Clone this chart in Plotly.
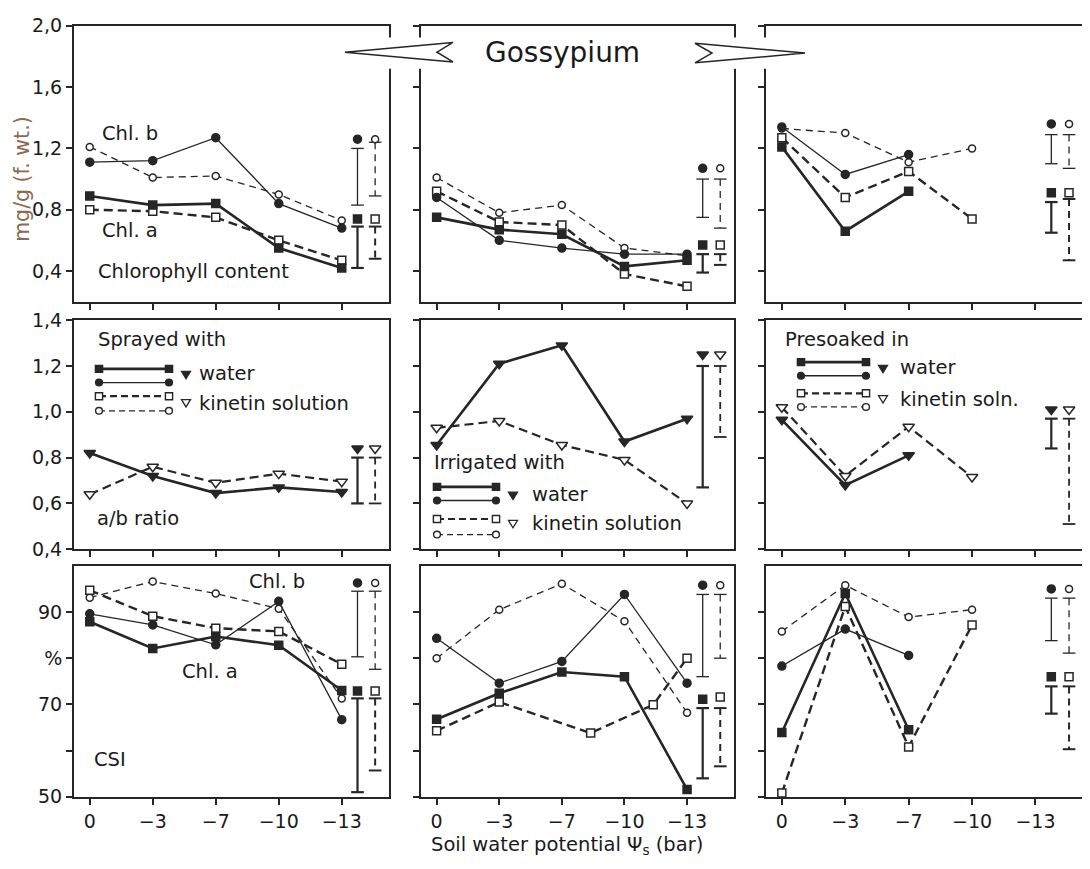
import plotly.graph_objects as go

W, H = 1090, 869
OFF = 8  # page body margin of the browser
FONT = "DejaVu Sans"
DARK = "#262626"

# ---------------- data ----------------
X_POS = [0, 1, 2, 3, 4]
X_LABELS = ["0", "−3", "−7", "−10", "−13"]
ERR_X_WATER = 4.25
ERR_X_KIN = 4.53

# Row 1: chlorophyll content (mg/g f. wt.)
spray_chla_water = [0.89, 0.83, 0.84, 0.55, 0.42]
spray_chla_kin = [0.80, 0.79, 0.75, 0.60, 0.47]
spray_chlb_water = [1.11, 1.12, 1.27, 0.84, 0.68]
spray_chlb_kin = [1.21, 1.01, 1.02, 0.90, 0.73]

irrig_chla_water = [0.75, 0.67, 0.64, 0.43, 0.47]
irrig_chla_kin = [0.92, 0.72, 0.70, 0.38, 0.30]
irrig_chlb_water = [0.88, 0.60, 0.55, 0.51, 0.51]
irrig_chlb_kin = [1.01, 0.78, 0.83, 0.55, 0.50]

soak_chla_water = [1.21, 0.66, 0.92, None, None]
soak_chla_kin = [1.27, 0.88, 1.05, 0.74, None]
soak_chlb_water = [1.34, 1.03, 1.16, None, None]
soak_chlb_kin = [1.33, 1.30, 1.11, 1.20, None]

# Row 2: a/b ratio
spray_ratio_water = [0.82, 0.72, 0.645, 0.67, 0.65]
spray_ratio_kin = [0.64, 0.76, 0.69, 0.73, 0.695]
irrig_ratio_water = [0.855, 1.21, 1.29, 0.87, 0.97]
irrig_ratio_kin = [0.93, 0.96, 0.855, 0.79, 0.60]
soak_ratio_water = [0.965, 0.68, 0.81, None, None]
soak_ratio_kin = [1.02, 0.72, 0.935, 0.715, None]

# Row 3: CSI (%)
spray_csi_a_water = [87.9, 82.1, 84.7, 82.8, 73.0]
spray_csi_a_kin = [94.7, 89.1, 86.5, 85.8, 78.7]
spray_csi_b_water = [89.6, 87.2, 82.9, 92.3, 66.7]
spray_csi_b_kin = [93.1, 96.6, 94.0, 90.7, 71.3]

irrig_csi_a_water = [66.8, 72.4, 77.0, 76.0, 51.6]
irrig_csi_a_kin = [64.3, 70.5, 63.8, 69.9, 80.0]
irrig_csi_a_kin_x = [0, 1, 2.46, 3.46, 4]
irrig_csi_b_water = [84.3, 74.6, 79.3, 93.8, 74.6]
irrig_csi_b_kin = [80.0, 90.5, 96.1, 88.0, 68.2]

soak_csi_a_water = [63.9, 94.0, 64.5, None, None]
soak_csi_a_kin = [50.8, 91.2, 60.8, 87.2, None]
soak_csi_b_water = [78.3, 86.3, 80.6, None, None]
soak_csi_b_kin = [85.8, 95.8, 88.9, 90.5, None]

# Significance bars: (symbol level, bar top, bar bottom)
err_spray_chl = {"b_water": (1.26, 1.20, 0.83), "b_kin": (1.26, 1.24, 0.89),
                 "a_water": (0.74, 0.69, 0.42), "a_kin": (0.74, 0.69, 0.48)}
err_irrig_chl = {"b_water": (1.07, 1.00, 0.75), "b_kin": (1.07, 1.00, 0.68),
                 "a_water": (0.57, 0.51, 0.39), "a_kin": (0.57, 0.51, 0.44)}
err_soak_chl = {"b_water": (1.36, 1.29, 1.10), "b_kin": (1.36, 1.29, 1.07),
                "a_water": (0.91, 0.85, 0.65), "a_kin": (0.91, 0.87, 0.47)}
err_spray_ratio = {"r_water": (0.84, 0.80, 0.60), "r_kin": (0.84, 0.80, 0.60)}
err_irrig_ratio = {"r_water": (1.25, 1.20, 0.67), "r_kin": (1.25, 1.20, 0.89)}
err_soak_ratio = {"r_water": (1.01, 0.97, 0.84), "r_kin": (1.01, 0.97, 0.51)}
err_spray_csi = {"b_water": (96.3, 94.5, 80.3), "b_kin": (96.3, 94.5, 77.6),
                 "a_water": (72.9, 71.3, 51.0), "a_kin": (72.9, 71.3, 55.7)}
err_irrig_csi = {"b_water": (95.8, 93.8, 76.0), "b_kin": (95.8, 93.8, 80.0),
                 "a_water": (71.1, 69.2, 54.0), "a_kin": (71.6, 69.2, 56.6)}
err_soak_csi = {"b_water": (95.0, 93.0, 83.8), "b_kin": (95.0, 93.0, 81.1),
                "a_water": (76.0, 73.9, 68.0), "a_kin": (76.0, 73.9, 60.3)}

ROW_RANGES = [[0.2, 2.0], [0.4, 1.4], [50, 100]]
ROW_TICKS = [[0.4, 0.8, 1.2, 1.6, 2.0], [0.4, 0.6, 0.8, 1.0, 1.2, 1.4], [50, 70, 80, 90]]
ROW_TICKTEXT = [["0,4", "0,8", "1,2", "1,6", "2,0"],
                ["0,4", "0,6", "0,8", "1,0", "1,2", "1,4"],
                ["50", "70", "%", "90"]]
ROW_MINOR_TICKS = [[], [], [60]]

# ---------------- styles ----------------
DASH = "9px,5px"
STYLE = {
    "a_water": dict(sym="square", size=8, fill=DARK, w=2.6, dash="solid"),
    "a_kin": dict(sym="square", size=8, fill="white", w=2.4, dash=DASH),
    "b_water": dict(sym="circle", size=8, fill=DARK, w=1.3, dash="solid"),
    "b_kin": dict(sym="circle", size=7, fill="white", w=1.3, dash="7px,5px"),
    "r_water": dict(sym="triangle-down", size=10, fill=DARK, w=2.6, dash="solid"),
    "r_kin": dict(sym="triangle-down", size=10, fill="white", w=2.2, dash=DASH),
}

# layout geometry (pixels)
COLS = [(74, 389), (421, 734), (766, 1083)]
ROWS = [(15, 298), (317, 552), (569, 806)]


def px(x):
    return (x - OFF) / W


def py(y):
    return 1 - (y - OFF) / H


fig = go.Figure()


def axn(i):
    return ("x" if i == 1 else f"x{i}"), ("y" if i == 1 else f"y{i}")


def add_series(i, y, kind, x=None):
    xa, ya = axn(i)
    s = STYLE[kind]
    fig.add_trace(go.Scatter(
        x=X_POS if x is None else x, y=y, xaxis=xa, yaxis=ya, mode="lines+markers",
        line=dict(color=DARK, width=s["w"], dash=s["dash"]),
        marker=dict(symbol=s["sym"], size=s["size"], color=s["fill"],
                    line=dict(color=DARK, width=1.5)),
        cliponaxis=False, showlegend=False, hoverinfo="skip", connectgaps=False))


def add_err(i, errs, kind):
    xa, ya = axn(i)
    s = STYLE[kind]
    m, top, bot = errs[kind]
    ex = ERR_X_WATER if "water" in kind else ERR_X_KIN
    bw = max(1.3, s["w"] - 0.4)
    fig.add_trace(go.Scatter(
        x=[ex, ex], y=[top, bot], xaxis=xa, yaxis=ya, mode="lines+markers",
        line=dict(color=DARK, width=bw, dash="solid" if "water" in kind else "7px,5px"),
        marker=dict(symbol="line-ew", size=9, line=dict(color=DARK, width=bw)),
        cliponaxis=False, showlegend=False, hoverinfo="skip"))
    fig.add_trace(go.Scatter(
        x=[ex], y=[m], xaxis=xa, yaxis=ya, mode="markers",
        marker=dict(symbol=s["sym"], size=s["size"], color=s["fill"],
                    line=dict(color=DARK, width=1.5)),
        cliponaxis=False, showlegend=False, hoverinfo="skip"))


# Row 1
for i, (a_w, a_k, b_w, b_k, errs) in enumerate([
        (spray_chla_water, spray_chla_kin, spray_chlb_water, spray_chlb_kin, err_spray_chl),
        (irrig_chla_water, irrig_chla_kin, irrig_chlb_water, irrig_chlb_kin, err_irrig_chl),
        (soak_chla_water, soak_chla_kin, soak_chlb_water, soak_chlb_kin, err_soak_chl)], start=1):
    add_series(i, b_k, "b_kin")
    add_series(i, a_k, "a_kin")
    add_series(i, b_w, "b_water")
    add_series(i, a_w, "a_water")
    for k in ["b_water", "b_kin", "a_water", "a_kin"]:
        add_err(i, errs, k)

# Row 2
for i, (r_w, r_k, errs) in enumerate([
        (spray_ratio_water, spray_ratio_kin, err_spray_ratio),
        (irrig_ratio_water, irrig_ratio_kin, err_irrig_ratio),
        (soak_ratio_water, soak_ratio_kin, err_soak_ratio)], start=4):
    add_series(i, r_k, "r_kin")
    add_series(i, r_w, "r_water")
    for k in ["r_water", "r_kin"]:
        add_err(i, errs, k)

# Row 3
for i, (a_w, a_k, b_w, b_k, errs, akx) in enumerate([
        (spray_csi_a_water, spray_csi_a_kin, spray_csi_b_water, spray_csi_b_kin, err_spray_csi, None),
        (irrig_csi_a_water, irrig_csi_a_kin, irrig_csi_b_water, irrig_csi_b_kin, err_irrig_csi, irrig_csi_a_kin_x),
        (soak_csi_a_water, soak_csi_a_kin, soak_csi_b_water, soak_csi_b_kin, err_soak_csi, None)], start=7):
    add_series(i, b_k, "b_kin")
    add_series(i, a_k, "a_kin", x=akx)
    add_series(i, b_w, "b_water")
    add_series(i, a_w, "a_water")
    for k in ["b_water", "b_kin", "a_water", "a_kin"]:
        add_err(i, errs, k)

# ---------------- axes ----------------
layout_axes = {}
for r in range(3):
    for c in range(3):
        i = r * 3 + c + 1
        xk = "xaxis" if i == 1 else f"xaxis{i}"
        yk = "yaxis" if i == 1 else f"yaxis{i}"
        x0, x1 = COLS[c]
        y0, y1 = ROWS[r]
        common = dict(showline=True, mirror=True, linecolor=DARK, linewidth=2,
                      ticks="outside", ticklen=6, tickwidth=1.6, tickcolor=DARK,
                      showgrid=False, zeroline=False, fixedrange=True,
                      tickfont=dict(family=FONT, size=19, color="#1a1a1a"))
        layout_axes[xk] = dict(common, domain=[px(x0), px(x1)], range=[-0.25, 4.75],
                               anchor=axn(i)[1], tickmode="array", tickvals=X_POS,
                               ticktext=X_LABELS, showticklabels=(r == 2))
        ya = dict(common, domain=[py(y1), py(y0)], range=ROW_RANGES[r],
                  anchor=axn(i)[0], tickmode="array", tickvals=ROW_TICKS[r],
                  ticktext=ROW_TICKTEXT[r], showticklabels=(c == 0))
        if ROW_MINOR_TICKS[r]:
            ya["minor"] = dict(tickmode="array", tickvals=ROW_MINOR_TICKS[r], ticks="outside",
                               ticklen=6, tickwidth=1.6, tickcolor=DARK, showgrid=False)
        layout_axes[yk] = ya

# ---------------- decorations ----------------
shapes = []
annotations = []


def txt(x, y, s, size=19.5, anchor="left", **kw):
    annotations.append(dict(x=px(x), y=py(y), xref="paper", yref="paper", text=s,
                            showarrow=False, xanchor=anchor, yanchor="middle",
                            font=dict(family=FONT, size=size, color=kw.get("color", "#1a1a1a")),
                            textangle=kw.get("angle", 0)))


def path(points, fill="white", width=1.5, layer="above"):
    d = "M " + " L ".join(f"{px(a):.5f},{py(b):.5f}" for a, b in points) + " Z"
    shapes.append(dict(type="path", path=d, xref="paper", yref="paper",
                       fillcolor=fill, line=dict(color=DARK, width=width), layer=layer))


# white gap in frame lines around the title arrows
shapes.append(dict(type="rect", xref="paper", yref="paper", x0=px(340), x1=px(810),
                   y0=py(59), y1=py(27), fillcolor="white", line=dict(width=0), layer="above"))
path([(345, 42), (453, 32), (437, 42), (453, 52)])
path([(695, 33), (805, 43), (695, 53), (712, 43)])
txt(563, 42, "Gossypium", size=28, anchor="center")


# legend keys
def key_line(x0, x1, y, width, dash):
    shapes.append(dict(type="line", xref="paper", yref="paper", x0=px(x0), x1=px(x1),
                       y0=py(y), y1=py(y), line=dict(color=DARK, width=width, dash=dash),
                       layer="above"))


def key_sq(x, y, fill, h=3.6):
    shapes.append(dict(type="rect", xref="paper", yref="paper", x0=px(x - h), x1=px(x + h),
                       y0=py(y + h), y1=py(y - h), fillcolor=fill,
                       line=dict(color=DARK, width=1.4), layer="above"))


def key_ci(x, y, fill, h=3.4):
    shapes.append(dict(type="circle", xref="paper", yref="paper", x0=px(x - h), x1=px(x + h),
                       y0=py(y + h), y1=py(y - h), fillcolor=fill,
                       line=dict(color=DARK, width=1.4), layer="above"))


def key_tri(x, y, fill):
    path([(x - 4.5, y - 3.5), (x + 4.5, y - 3.5), (x, y + 4)], fill=fill, width=1.3)


def legend_block(x0, x1, ys, tri_x, tri_ys, text_x, labels):
    key_line(x0, x1, ys[0], 2.6, "solid")
    key_sq(x0, ys[0], DARK); key_sq(x1, ys[0], DARK)
    key_line(x0, x1, ys[1], 1.3, "solid")
    key_ci(x0, ys[1], DARK); key_ci(x1, ys[1], DARK)
    key_line(x0, x1, ys[2], 2.2, "7px,4px")
    key_sq(x0, ys[2], "white"); key_sq(x1, ys[2], "white")
    key_line(x0, x1, ys[3], 1.3, "6px,4px")
    key_ci(x0, ys[3], "white"); key_ci(x1, ys[3], "white")
    key_tri(tri_x, tri_ys[0], DARK)
    key_tri(tri_x, tri_ys[1], "white")
    txt(text_x, tri_ys[0] - 1, labels[0])
    txt(text_x, tri_ys[1], labels[1])


legend_block(99, 169, [367, 381, 395, 410], 186, [373, 402], 197, ["water", "kinetin solution"])
legend_block(437, 496, [488, 502, 521, 537], 513, [497, 526], 530, ["water", "kinetin solution"])
legend_block(801, 866, [360, 374, 392, 406], 883, [367, 398], 898, ["water", "kinetin soln."])

# panel labels
txt(100, 125, "Chl. b")
txt(100, 225, "Chl. a")
txt(96, 267, "Chlorophyll content")
txt(96, 337, "Sprayed with")
txt(95, 520, "a/b ratio")
txt(432, 463, "Irrigated with")
txt(783, 337, "Presoaked in")
txt(247, 585, "Chl. b")
txt(180, 677, "Chl. a")
txt(92, 768, "CSI")

# axis titles
txt(22, 172, "mg/g (f. wt.)", size=20.5, anchor="center", color="#8a6a52", angle=-90)
txt(567, 856, "Soil water potential Ψ<sub>s</sub> (bar)", size=19.5, anchor="center")

fig.update_layout(
    width=W, height=H, margin=dict(l=0, r=0, t=0, b=0),
    paper_bgcolor="white", plot_bgcolor="white", showlegend=False,
    shapes=shapes, annotations=annotations, **layout_axes)

fig.write_html("out.html")
